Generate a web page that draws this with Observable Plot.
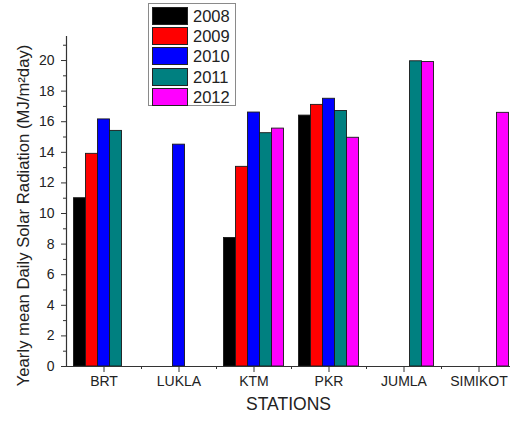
<!DOCTYPE html>
<html>
<head>
<meta charset="utf-8">
<script src="https://cdn.jsdelivr.net/npm/d3@7"></script>
<script src="https://cdn.jsdelivr.net/npm/@observablehq/plot@0.6"></script>
<style>
  html, body { margin: 0; padding: 0; background: #fff; }
  #wrap { position: relative; width: 510px; height: 421px; overflow: hidden; font-family: "Liberation Sans", Arial, sans-serif; }
  #legend { position: absolute; left: 148px; top: 3px; width: 88px; height: 103px; border: 1px solid #8a8a8a; background: #fff; box-sizing: border-box; }
  .row { position: absolute; left: 3px; height: 18px; }
  .sw { position: absolute; left: 0; top: 0; width: 36px; height: 18px; box-sizing: border-box; border: 1px solid #222; }
  .lab { position: absolute; left: 41px; top: -1px; font-size: 16.5px; line-height: 20px; color: #222; }
</style>
</head>
<body>
<div id="wrap"></div>
<script>
const stations = ["BRT", "LUKLA", "KTM", "PKR", "JUMLA", "SIMIKOT"];
const years = ["2008", "2009", "2010", "2011", "2012"];
const colors = ["#000000", "#ff0000", "#0000ff", "#008080", "#ff00ff"];
const v2008 = [11.0, null, 8.4, 16.4, null, null];
const v2009 = [13.9, null, 13.05, 17.1, null, null];
const v2010 = [16.15, 14.5, 16.6, 17.5, null, null];
const v2011 = [15.4, null, 15.25, 16.7, 19.95, null];
const v2012 = [null, null, 15.55, 14.95, 19.9, 16.58];
const yTicks = [0, 2, 4, 6, 8, 10, 12, 14, 16, 18, 20];
const yLabel = "Yearly mean Daily Solar Radiation (MJ/m\u00B2day)";
const xLabel = "STATIONS";

const series = [v2008, v2009, v2010, v2011, v2012];
const barW = 0.16;
const data = [];
stations.forEach((s, i) => {
  series.forEach((vals, k) => {
    const v = vals[i];
    if (v != null) {
      const x1 = i + 1 + (k - 2.5) * barW;
      data.push({station: s, year: years[k], value: v, x1, x2: x1 + barW});
    }
  });
});
const majorX = stations.map((s, i) => i + 1);
const minorX = stations.map((s, i) => i + 1.5);
const minorY = yTicks.map(t => t + 1);

const chart = Plot.plot({
  width: 510,
  height: 421,
  marginLeft: 66,
  marginRight: 0,
  marginTop: 36,
  marginBottom: 55,
  style: {fontFamily: '"Liberation Sans", Arial, sans-serif', color: "#222", background: "white"},
  x: {domain: [0.5, 6.5], range: [66, 516]},
  y: {domain: [0, 21.57]},
  color: {domain: years, range: colors},
  marks: [
    Plot.rect(data, {x1: "x1", x2: "x2", y1: () => 0, y2: "value", fill: "year", stroke: "#1a1a1a", strokeWidth: 0.9}),
    Plot.ruleY([0], {stroke: "#333", strokeWidth: 1.2}),
    Plot.ruleX([0.5], {stroke: "#333", strokeWidth: 1.2}),
    Plot.axisY({ticks: yTicks, tickSize: 5, tickPadding: 7, fontSize: 14, label: null, stroke: "#333"}),
    Plot.axisY({ticks: minorY, tickSize: 3, tickFormat: () => "", label: null, stroke: "#333"}),
    Plot.axisX({ticks: majorX, tickFormat: d => stations[d - 1], tickSize: 6, tickPadding: 4, fontSize: 14, label: null, stroke: "#333"}),
    Plot.axisX({ticks: minorX, tickSize: 3, tickFormat: () => "", label: null, stroke: "#333"}),
    Plot.text([yLabel], {frameAnchor: "left", textAnchor: "middle", rotate: -90, dx: -43, dy: 14, fontSize: 16.7, fill: "#222"}),
    Plot.text([xLabel], {frameAnchor: "bottom", dy: 43, fontSize: 17.5, fill: "#222"})
  ]
});
const wrap = document.getElementById("wrap");
wrap.appendChild(chart);

const legend = document.createElement("div");
legend.id = "legend";
years.forEach((y, k) => {
  const row = document.createElement("div");
  row.className = "row";
  row.style.top = (3 + k * 20.2) + "px";
  const sw = document.createElement("div");
  sw.className = "sw";
  sw.style.background = colors[k];
  const lab = document.createElement("div");
  lab.className = "lab";
  lab.textContent = y;
  row.appendChild(sw);
  row.appendChild(lab);
  legend.appendChild(row);
});
wrap.appendChild(legend);
</script>
</body>
</html>
